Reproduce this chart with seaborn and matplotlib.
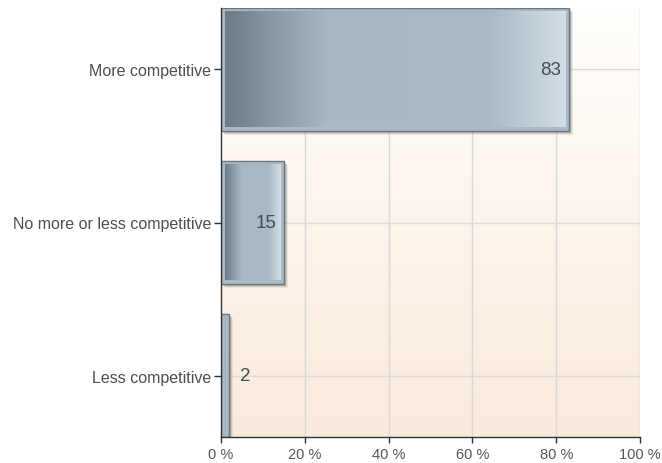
import numpy as np
import pandas as pd
import matplotlib
matplotlib.use("Agg")
import matplotlib.pyplot as plt
import seaborn as sns
from matplotlib.colors import LinearSegmentedColormap
from matplotlib.patches import Rectangle
from matplotlib.transforms import ScaledTranslation

categories = ["More competitive", "No more or less competitive", "Less competitive"]
values = [83, 15, 2]
x_ticks = [0, 20, 40, 60, 80, 100]
x_tick_labels = ["0 %", "20 %", "40 %", "60 %", "80 %", "100 %"]

df = pd.DataFrame({"category": categories, "value": values})

sns.set_theme(style="white")
plt.rcParams["font.family"] = ["Liberation Sans", "DejaVu Sans"]

W, H, DPI = 662, 464, 100
fig = plt.figure(figsize=(W / DPI, H / DPI), dpi=DPI)
left, right, top, bottom = 221, 640, 9, 438
ax = fig.add_axes([left / W, 1 - bottom / H, (right - left) / W, (bottom - top) / H])

sns.barplot(data=df, x="value", y="category", orient="h", width=0.8,
            color="#a9bac6", edgecolor="#6b7780", linewidth=1.0, ax=ax, zorder=3)

ax.set_xlim(0, 100)
ax.set_ylim(2.4, -0.4)

# pixel -> data scale factors
px_x = 100 / (right - left)
px_y = 2.8 / (bottom - top)

# background gradient of the plotting area (white at top to light peach at bottom)
bg = LinearSegmentedColormap.from_list("bg", ["#fffefc", "#faeadb"])
grad = np.linspace(0, 1, 256).reshape(-1, 1)
ax.imshow(grad, cmap=bg, extent=(0, 100, 2.4, -0.4), aspect="auto",
          interpolation="bilinear", zorder=0)

# grid lines
for xv in x_ticks[1:]:
    ax.axvline(xv, color="#d9d9d9", lw=1.0, zorder=1)
for i in range(len(categories)):
    ax.axhline(i, color="#dcdcdc", lw=1.0, zorder=1)

# bar fill gradient
stops = [(0.0, "#6d7c87"), (0.3, "#a6b8c5"), (0.78, "#a9bac7"), (1.0, "#d3dee5")]
bar_cmap = LinearSegmentedColormap.from_list("bar", stops, N=512)
hgrad = np.linspace(0, 1, 512).reshape(1, -1)

for patch, val in zip(ax.patches, values):
    x0, y0 = patch.get_x(), patch.get_y()
    w, h = patch.get_width(), patch.get_height()
    # soft drop shadow
    for k, a in [(4, 0.10), (3, 0.18), (2, 0.25)]:
        off = ScaledTranslation(k / DPI, -k / DPI, fig.dpi_scale_trans)
        ax.add_patch(Rectangle((x0, y0), w, h, facecolor="#555f66", edgecolor="none",
                               alpha=a, transform=ax.transData + off, zorder=2))
    inset_x, inset_y = 3.5 * px_x, 3.5 * px_y
    if w > 2 * inset_x:
        ax.imshow(hgrad, cmap=bar_cmap,
                  extent=(x0 + inset_x, x0 + w - inset_x, y0 + h - inset_y, y0 + inset_y),
                  aspect="auto", interpolation="bilinear", zorder=4)
    # value label: inside the bar end when it fits, otherwise just outside
    if val > 6:
        ax.annotate(str(val), (val, y0 + h / 2), xytext=(-5.5, 0), textcoords="offset points",
                    ha="right", va="center", fontsize=13.5, color="#3e4e5a", zorder=6)
    else:
        ax.annotate(str(val), (val, y0 + h / 2), xytext=(8, 0), textcoords="offset points",
                    ha="left", va="center", fontsize=13.5, color="#3e4e5a", zorder=6)

ax.set_xticks(x_ticks)
ax.set_xticklabels(x_tick_labels)
ax.set_xlabel("")
ax.set_ylabel("")
ax.tick_params(axis="x", length=4, width=1, color="#333333", labelsize=10.5,
               labelcolor="#505860", pad=3, bottom=True)
ax.tick_params(axis="y", length=5, width=1, color="#333333", labelsize=11.5,
               labelcolor="#4a4f55", pad=2, left=True)

for s in ["top", "right"]:
    ax.spines[s].set_visible(False)
for s in ["left", "bottom"]:
    ax.spines[s].set_color("#333333")
    ax.spines[s].set_linewidth(1.0)
    ax.spines[s].set_zorder(7)

ax.set_facecolor("white")
fig.patch.set_facecolor("white")
fig.savefig("out.png", dpi=DPI)
